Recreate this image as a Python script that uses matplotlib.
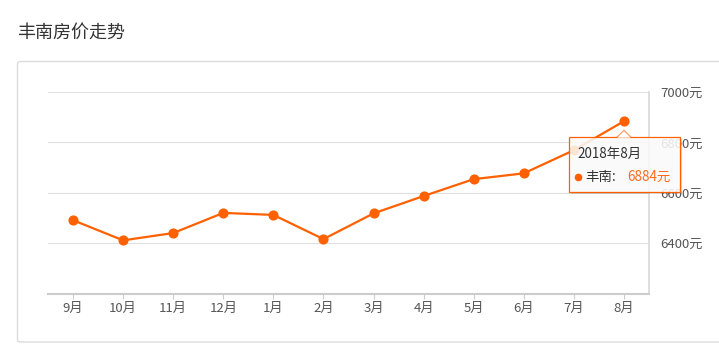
import matplotlib
matplotlib.use("Agg")
import matplotlib.pyplot as plt
from matplotlib.patches import FancyBboxPatch, Polygon, Rectangle
from matplotlib.lines import Line2D

plt.rcParams['font.family'] = ['Noto Sans CJK SC', 'DejaVu Sans']

title = "丰南房价走势"
series_name = "丰南"
months = ["9月", "10月", "11月", "12月", "1月", "2月", "3月", "4月", "5月", "6月", "7月", "8月"]
prices = [6491, 6411, 6440, 6520, 6512, 6416, 6518, 6587, 6654, 6677, 6769, 6884]
yticks = [6400, 6600, 6800, 7000]
tooltip_title = "2018年8月"

W, H = 719, 345
DPI = 100
LINE = "#ff6000"

fig = plt.figure(figsize=(W / DPI, H / DPI), dpi=DPI)
fig.patch.set_facecolor("white")

def fx(px):
    return px / W

def fy(py):
    return 1 - py / H

# outer panel
panel = FancyBboxPatch((fx(17.5), fy(342)), fx(740) - fx(17.5), fy(61.5) - fy(342),
                       boxstyle="round,pad=0,rounding_size=0.005",
                       transform=fig.transFigure, facecolor="white",
                       edgecolor="#dcdcdc", linewidth=1.0, zorder=-5)
fig.patches.append(panel)

fig.text(fx(17), fy(33), title, fontsize=13, color="#333333", ha="left", va="center")

ax = fig.add_axes([fx(48), fy(293.5), fx(649) - fx(48), fy(92) - fy(293.5)], zorder=1)
ax.set_facecolor("none")
x = list(range(len(months)))
ax.plot(x, prices, color=LINE, lw=1.6, marker="o", markersize=6.3,
        markerfacecolor=LINE, markeredgecolor=LINE, zorder=3, clip_on=False)
ax.set_xlim(-0.5, len(months) - 0.5)
ax.set_ylim(6200, 7000)
ax.set_xticks(x)
ax.set_xticklabels(months)
ax.set_yticks(yticks)
ax.set_yticklabels([f"{v}元" for v in yticks])
ax.yaxis.tick_right()
ax.tick_params(axis="y", length=0, pad=8, labelsize=9.5, labelcolor="#555555")
ax.tick_params(axis="x", length=3.5, width=0.8, color="#cccccc", pad=2.5,
               labelsize=9.5, labelcolor="#555555")
for v in yticks:
    ax.axhline(v, color="#e0e0e0", lw=0.8, zorder=1)
for s in ["top", "left"]:
    ax.spines[s].set_visible(False)
ax.spines["bottom"].set_color("#cccccc")
ax.spines["bottom"].set_linewidth(1.5)
ax.spines["right"].set_color("#d8d8d8")
ax.spines["right"].set_linewidth(1.2)

# tooltip in pixel overlay
fig.canvas.draw()
px, py = ax.transData.transform((x[-1], prices[-1]))
py = H - py  # top-origin pixel

ov = fig.add_axes([0, 0, 1, 1], zorder=10)
ov.set_xlim(0, W)
ov.set_ylim(H, 0)
ov.axis("off")
ov.patch.set_alpha(0)

bx0, by0 = px - 55, py + 16
bw, bh = 111, 55
# shadow
ov.add_patch(Rectangle((bx0 + 2, by0 + 2), bw, bh, facecolor="#000000", alpha=0.12,
                       edgecolor="none", zorder=1))
ov.add_patch(Rectangle((bx0, by0), bw, bh, facecolor="white", alpha=0.85,
                       edgecolor="none", zorder=2))
ov.add_patch(Rectangle((bx0, by0), bw, bh, facecolor="none",
                       edgecolor=LINE, lw=0.9, zorder=3))
# arrow
ax_ = px
tri = Polygon([(ax_ - 7, by0 + 0.5), (ax_, by0 - 7), (ax_ + 7, by0 + 0.5)],
              closed=False, facecolor="white", edgecolor="none", zorder=4)
ov.add_patch(tri)
ov.add_line(Line2D([ax_ - 7, ax_, ax_ + 7], [by0, by0 - 7, by0], color=LINE, lw=0.9,
                   zorder=5, alpha=0.6))
ov.text(bx0 + 8, by0 + 17, tooltip_title, fontsize=9.7, color="#333333",
        ha="left", va="center", zorder=6)
ov.plot([bx0 + 9.5], [by0 + 40], marker="o", markersize=4.5, color=LINE, zorder=6)
ov.text(bx0 + 16, by0 + 40, f"{series_name}:", fontsize=9.7, color="#333333",
        ha="left", va="center", zorder=6)
ov.text(bx0 + 58, by0 + 40, f"{prices[-1]}元", fontsize=9.7, color="#ff6a1a",
        ha="left", va="center", zorder=6)

fig.savefig("out.png", dpi=DPI)
